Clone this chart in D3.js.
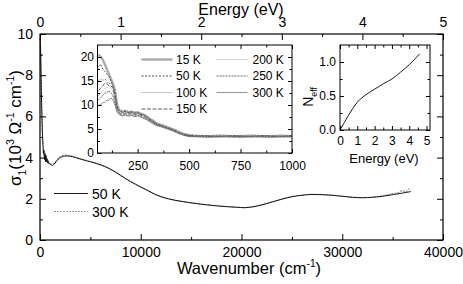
<!DOCTYPE html>
<html>
<head>
<meta charset="utf-8">
<script src="https://cdn.jsdelivr.net/npm/d3@7"></script>
<style>
  body { margin: 0; background: #fff; }
  svg { display: block; font-family: "Liberation Sans", Arial, sans-serif; }
</style>
</head>
<body>
<div id="chart"></div>
<script>
/**
 * DATA
 * */
// main panel: sigma_1 (10^3 / ohm cm) vs wavenumber (cm^-1)
const wn50 = [20, 60, 100, 150, 200, 250, 300, 350, 400, 450, 500, 550, 600, 650, 700, 750, 800, 900, 1000, 1100,
  1250, 1400, 1600, 1800, 2000, 2300, 2600, 3000, 3500, 4000, 4500, 5000, 5600, 6500, 7500, 8500, 9500, 10500, 11500, 12500,
  13500, 14500, 15500, 16500, 17500, 18500, 19500, 20300, 21000, 22000, 23000, 24000, 25000, 26000, 27000, 28000, 29000, 30000, 31000, 32000,
  33000, 34000, 35000, 36000, 36800];
const sig50 = [9.8, 9.3, 8.2, 6.9, 5.9, 5.1, 4.6, 4.2, 4.35, 3.9, 4.2, 3.8, 4.1, 3.8, 3.95, 3.75, 3.85, 3.7, 3.7, 3.65,
  3.62, 3.68, 3.8, 3.92, 4.0, 4.06, 4.08, 4.07, 4.0, 3.93, 3.86, 3.8, 3.72, 3.56, 3.3, 2.98, 2.7, 2.45, 2.2, 2.03,
  1.92, 1.84, 1.77, 1.71, 1.66, 1.62, 1.59, 1.57, 1.6, 1.7, 1.84, 1.98, 2.1, 2.17, 2.21, 2.2, 2.17, 2.12, 2.07, 2.05,
  2.07, 2.12, 2.2, 2.28, 2.35];
const wn300 = [20, 60, 100, 150, 200, 250, 300, 400, 500, 600, 700, 800, 1000, 1250, 1500, 1800, 2100, 2500, 3000, 3500,
  4000, 4500, 5000, 5600, 6500, 7500, 8500, 9500, 10500, 11500, 12500, 13500, 14500, 15500, 16500, 17500, 18500, 19500, 20300, 21000,
  22000, 23000, 24000, 25000, 26000, 27000, 28000, 29000, 30000, 31000, 32000, 33000, 34000, 35000, 35500, 36000, 36300, 36600, 36800];
const sig300 = [9.4, 8.9, 7.9, 6.7, 5.7, 5.0, 4.5, 4.1, 3.95, 3.85, 3.8, 3.75, 3.7, 3.68, 3.78, 3.95, 4.06, 4.12, 4.1, 4.03,
  3.95, 3.88, 3.8, 3.7, 3.54, 3.28, 2.97, 2.7, 2.45, 2.2, 2.03, 1.92, 1.84, 1.77, 1.71, 1.66, 1.62, 1.59, 1.57, 1.61,
  1.71, 1.85, 1.99, 2.11, 2.18, 2.22, 2.21, 2.18, 2.13, 2.08, 2.06, 2.09, 2.15, 2.25, 2.3, 2.4, 2.33, 2.47, 2.42];

// far-infrared inset, all temperatures share the wavenumber grid
const irWn = [60, 70, 80, 90, 100, 110, 120, 130, 140, 150, 160, 175, 190, 205, 220, 235, 250, 265, 280, 295,
  310, 325, 340, 360, 380, 400, 420, 440, 460, 480, 500, 530, 560, 600, 650, 700, 750, 800, 850, 900, 950, 1000];
const ir15 = [20.5, 20, 19.5, 18.5, 17.5, 16.5, 15.5, 14.5, 13, 10, 9.0, 8.6, 8.8, 8.5, 8.6, 8.4, 8.5, 8.2, 8.0, 7.6,
  7.1, 6.7, 6.2, 5.9, 5.6, 5.3, 5.0, 4.6, 4.2, 3.9, 3.7, 3.6, 3.5, 3.5, 3.6, 3.5, 3.5, 3.6, 3.5, 3.5, 3.6, 3.5];
const ir50 = [18, 18.5, 17.5, 17, 16.5, 16, 15, 14, 12.5, 9.8, 8.8, 8.5, 8.7, 8.4, 8.6, 8.3, 8.4, 8.1, 7.9, 7.5,
  7.0, 6.6, 6.1, 5.8, 5.6, 5.2, 4.9, 4.5, 4.1, 3.8, 3.7, 3.5, 3.6, 3.5, 3.5, 3.6, 3.5, 3.5, 3.6, 3.5, 3.5, 3.6];
const ir100 = [15, 15.5, 15, 15.5, 15, 14.5, 14.5, 14, 12, 9.5, 8.6, 8.3, 8.5, 8.3, 8.4, 8.2, 8.3, 8.0, 7.8, 7.4,
  6.9, 6.5, 6.0, 5.8, 5.5, 5.2, 4.9, 4.5, 4.1, 3.8, 3.6, 3.5, 3.5, 3.4, 3.5, 3.5, 3.4, 3.5, 3.5, 3.4, 3.5, 3.5];
const ir150 = [13, 13.5, 14, 14.5, 14.5, 14, 14, 13.5, 11.5, 9.2, 8.4, 8.1, 8.3, 8.1, 8.3, 8.0, 8.1, 7.9, 7.6, 7.2,
  6.8, 6.4, 6.0, 5.7, 5.4, 5.1, 4.8, 4.4, 4.0, 3.7, 3.6, 3.5, 3.5, 3.5, 3.4, 3.5, 3.5, 3.4, 3.5, 3.5, 3.4, 3.5];
const ir200 = [12, 12.5, 13, 13.5, 13.5, 14, 13.5, 13, 11, 9, 8.3, 8.0, 8.2, 8.0, 8.1, 7.9, 8.0, 7.7, 7.5, 7.1,
  6.7, 6.3, 5.9, 5.7, 5.4, 5.1, 4.8, 4.4, 4.0, 3.7, 3.5, 3.4, 3.5, 3.4, 3.4, 3.5, 3.4, 3.4, 3.5, 3.4, 3.4, 3.4];
const ir250 = [11, 11.5, 12, 12.5, 12.5, 13, 12.5, 12, 10.5, 8.7, 8.1, 7.8, 8.0, 7.8, 7.9, 7.7, 7.8, 7.6, 7.3, 7.0,
  6.6, 6.2, 5.8, 5.6, 5.3, 5.0, 4.7, 4.3, 3.9, 3.7, 3.5, 3.4, 3.4, 3.4, 3.4, 3.4, 3.4, 3.4, 3.4, 3.4, 3.4, 3.4];
const ir300 = [10, 10, 10.5, 10.5, 11, 11, 11.5, 11, 10, 8.5, 8.0, 7.7, 7.9, 7.7, 7.8, 7.6, 7.7, 7.5, 7.2, 6.9,
  6.5, 6.1, 5.7, 5.5, 5.2, 4.9, 4.6, 4.2, 3.9, 3.6, 3.4, 3.4, 3.4, 3.3, 3.4, 3.4, 3.3, 3.4, 3.4, 3.3, 3.4, 3.4];
const irLabels = ["15 K", "50 K", "100 K", "150 K", "200 K", "250 K", "300 K"];

// effective carrier number inset
const neffE = [0, 0.25, 0.5, 0.75, 1.0, 1.25, 1.5, 2.0, 2.5, 3.0, 3.5, 4.0, 4.6];
const neffV = [0, 0.11, 0.22, 0.32, 0.41, 0.47, 0.52, 0.6, 0.68, 0.75, 0.85, 0.96, 1.12];

// tick values
const mainXMajor = [0, 10000, 20000, 30000, 40000];
const mainXMinor = [5000, 15000, 25000, 35000];
const mainYMajor = [0, 2, 4, 6, 8, 10];
const mainYMinor = [1, 3, 5, 7, 9];
const eMajor = [0, 1, 2, 3, 4, 5];
const eMinor = [0.5, 1.5, 2.5, 3.5, 4.5];
const irXMajor = [250, 500, 750, 1000];
const irXMinor = [125, 375, 625, 875];
const irYMajor = [0, 5, 10, 15, 20];
const irYMinor = [2.5, 7.5, 12.5, 17.5];
const nYMajor = [0, 0.5, 1.0];
const nYMinor = [0.25, 0.75];

/**
 * SETUP
 * */
const width = 463, height = 284;
const svg = d3.select("#chart").append("svg")
  .attr("width", width).attr("height", height);

// main scales
const x = d3.scaleLinear().domain([0, 40000]).range([40, 443]);
const y = d3.scaleLinear().domain([0, 10]).range([240, 34]);
const xE = d3.scaleLinear().domain([0, 5]).range([40, 443]);

function axis(gen, scale, at, vals, size, fmt, fs, pad) {
  const g = svg.append("g").attr("transform", at)
    .call(gen(scale).tickValues(vals).tickSize(-size).tickPadding(pad).tickFormat(fmt))
    .attr("font-family", null).attr("font-size", fs);
  g.select(".domain").remove();
  g.selectAll("line").attr("stroke", "#000");
  g.selectAll("text").attr("fill", "#000");
  return g;
}
const none = () => "";

// rich text with sub/superscripts
function rich(sel, parts, fs) {
  let shift = 0;
  parts.forEach(([txt, kind]) => {
    const target = kind === "sup" ? -0.42 * fs : kind === "sub" ? 0.28 * fs : 0;
    sel.append("tspan")
      .attr("dy", target - shift)
      .style("font-size", (kind ? fs * 0.62 : fs) + "px")
      .text(txt);
    shift = target;
  });
}

/**
 * MAIN PANEL
 * */
const mainLine = (xs) => d3.line()
  .x((d, i) => x(xs[i]))
  .y(d => y(d))
  .curve(d3.curveMonotoneX);

svg.append("path").datum(sig300)
  .attr("d", mainLine(wn300))
  .attr("fill", "none").attr("stroke", "#999").attr("stroke-width", 1.1)
  .attr("stroke-dasharray", "2,1");
svg.append("path").datum(sig50)
  .attr("d", mainLine(wn50))
  .attr("fill", "none").attr("stroke", "#000").attr("stroke-width", 0.9);

axis(d3.axisBottom, x, "translate(0,240)", mainXMajor, 6, d3.format("d"), 14, 7);
axis(d3.axisBottom, x, "translate(0,240)", mainXMinor, 3, none, 14, 7);
axis(d3.axisLeft, y, "translate(40,0)", mainYMajor, 6, d3.format("d"), 14, 7);
axis(d3.axisLeft, y, "translate(40,0)", mainYMinor, 3, none, 14, 7);
axis(d3.axisRight, y, "translate(443,0)", mainYMajor, 6, none, 14, 7);
axis(d3.axisRight, y, "translate(443,0)", mainYMinor, 3, none, 14, 7);
axis(d3.axisTop, xE, "translate(0,34)", eMajor, 6, d3.format("d"), 14, 7);
axis(d3.axisTop, xE, "translate(0,34)", eMinor, 3, none, 14, 7);

svg.append("rect").attr("x", 40).attr("y", 34).attr("width", 403).attr("height", 206)
  .attr("fill", "none").attr("stroke", "#000").attr("stroke-width", 1.2);

// axis titles
svg.append("text").attr("x", 241).attr("y", 14.5).attr("text-anchor", "middle")
  .style("font-size", "16px").text("Energy (eV)");
rich(svg.append("text").attr("x", 249).attr("y", 274).attr("text-anchor", "middle"),
  [["Wavenumber (cm"], ["-1", "sup"], [")"]], 16.5);
rich(svg.append("text").attr("transform", "translate(21,128) rotate(-90)").attr("text-anchor", "middle"),
  [["σ"], ["1", "sub"], ["(10"], ["3", "sup"], [" Ω"], ["-1", "sup"], [" cm"], ["-1", "sup"], [")"]], 17);

// main legend
const mainLegend = [
  { label: "50 K", color: "#000", dash: null, w: 0.9 },
  { label: "300 K", color: "#999", dash: "2,1", w: 1.1 }
];
mainLegend.forEach((d, i) => {
  const ly = 193.5 + i * 18;
  svg.append("line").attr("x1", 54).attr("x2", 88).attr("y1", ly).attr("y2", ly)
    .attr("stroke", d.color).attr("stroke-width", d.w).attr("stroke-dasharray", d.dash);
  svg.append("text").attr("x", 92).attr("y", ly + 5).style("font-size", "14px").text(d.label);
});

/**
 * INSET 1: far infrared
 * */
const xi = d3.scaleLinear().domain([55, 1000]).range([97.5, 292]);
const yi = d3.scaleLinear().domain([0, 22.5]).range([153, 45]);
svg.append("rect").attr("x", 97.5).attr("y", 45).attr("width", 194.5).attr("height", 108)
  .attr("fill", "#fff");

const irSeries = [ir15, ir50, ir100, ir150, ir200, ir250, ir300];
const irStyle = [
  { color: "#aaa", w: 2.4, dash: null },
  { color: "#222", w: 0.8, dash: "2,1.5" },
  { color: "#888", w: 1, dash: "1,1" },
  { color: "#333", w: 0.8, dash: "4,1.5" },
  { color: "#aaa", w: 1, dash: "1,1" },
  { color: "#444", w: 0.8, dash: "2,1" },
  { color: "#777", w: 0.8, dash: null }
];
const irLine = d3.line().x((d, i) => xi(irWn[i])).y(d => yi(d));
irSeries.forEach((s, k) => {
  svg.append("path").datum(s).attr("d", irLine)
    .attr("fill", "none").attr("stroke", irStyle[k].color)
    .attr("stroke-width", irStyle[k].w).attr("stroke-dasharray", irStyle[k].dash);
});

axis(d3.axisBottom, xi, "translate(0,153)", irXMajor, 4, d3.format("d"), 12, 8);
axis(d3.axisBottom, xi, "translate(0,153)", irXMinor, 2.5, none, 12, 8);
axis(d3.axisTop, xi, "translate(0,45)", irXMajor, 4, none, 12, 8);
axis(d3.axisTop, xi, "translate(0,45)", irXMinor, 2.5, none, 12, 8);
axis(d3.axisLeft, yi, "translate(97.5,0)", irYMajor, 4, d3.format("d"), 12, 3.5);
axis(d3.axisLeft, yi, "translate(97.5,0)", irYMinor, 2.5, none, 12, 3.5);
axis(d3.axisRight, yi, "translate(292,0)", irYMajor, 4, none, 12, 3);
axis(d3.axisRight, yi, "translate(292,0)", irYMinor, 2.5, none, 12, 3);
svg.append("rect").attr("x", 97.5).attr("y", 45).attr("width", 194.5).attr("height", 108)
  .attr("fill", "none").attr("stroke", "#000").attr("stroke-width", 1);

irLabels.forEach((lab, k) => {
  const col = k < 4 ? 0 : 1;
  const row = k < 4 ? k : k - 4;
  const ly = 59.5 + row * 16.5;
  const lx = col === 0 ? 141.5 : 216.5;
  const tx = col === 0 ? 176 : 252.5;
  svg.append("line").attr("x1", lx).attr("x2", lx + 31).attr("y1", ly).attr("y2", ly)
    .attr("stroke", irStyle[k].color).attr("stroke-width", irStyle[k].w)
    .attr("stroke-dasharray", irStyle[k].dash);
  svg.append("text").attr("x", tx).attr("y", ly + 4.3).style("font-size", "12px").text(lab);
});

/**
 * INSET 2: N_eff
 * */
const xn = d3.scaleLinear().domain([0, 5.2]).range([340, 430]);
const yn = d3.scaleLinear().domain([0, 1.25]).range([130, 45]);
svg.append("rect").attr("x", 340).attr("y", 45).attr("width", 90).attr("height", 85)
  .attr("fill", "#fff");
svg.append("path").datum(neffV)
  .attr("d", d3.line().x((d, i) => xn(neffE[i])).y(d => yn(d)).curve(d3.curveMonotoneX))
  .attr("fill", "none").attr("stroke", "#000").attr("stroke-width", 0.9);

axis(d3.axisBottom, xn, "translate(0,130)", eMajor, 4, d3.format("d"), 12, 6.5);
axis(d3.axisBottom, xn, "translate(0,130)", eMinor, 2.5, none, 12, 6.5);
axis(d3.axisTop, xn, "translate(0,45)", eMajor, 4, none, 12, 6.5);
axis(d3.axisTop, xn, "translate(0,45)", eMinor, 2.5, none, 12, 6.5);
axis(d3.axisLeft, yn, "translate(340,0)", nYMajor, 4, d3.format(".1f"), 12, 4);
axis(d3.axisLeft, yn, "translate(340,0)", nYMinor, 2.5, none, 12, 4);
axis(d3.axisRight, yn, "translate(430,0)", nYMajor, 4, none, 12, 4);
axis(d3.axisRight, yn, "translate(430,0)", nYMinor, 2.5, none, 12, 4);
svg.append("rect").attr("x", 340).attr("y", 45).attr("width", 90).attr("height", 85)
  .attr("fill", "none").attr("stroke", "#000").attr("stroke-width", 1);

svg.append("text").attr("x", 384).attr("y", 163).attr("text-anchor", "middle")
  .style("font-size", "13px").text("Energy (eV)");
rich(svg.append("text").attr("transform", "translate(313,97) rotate(-90)").attr("text-anchor", "middle"),
  [["N"], ["eff", "sub"]], 14);
</script>
</body>
</html>
